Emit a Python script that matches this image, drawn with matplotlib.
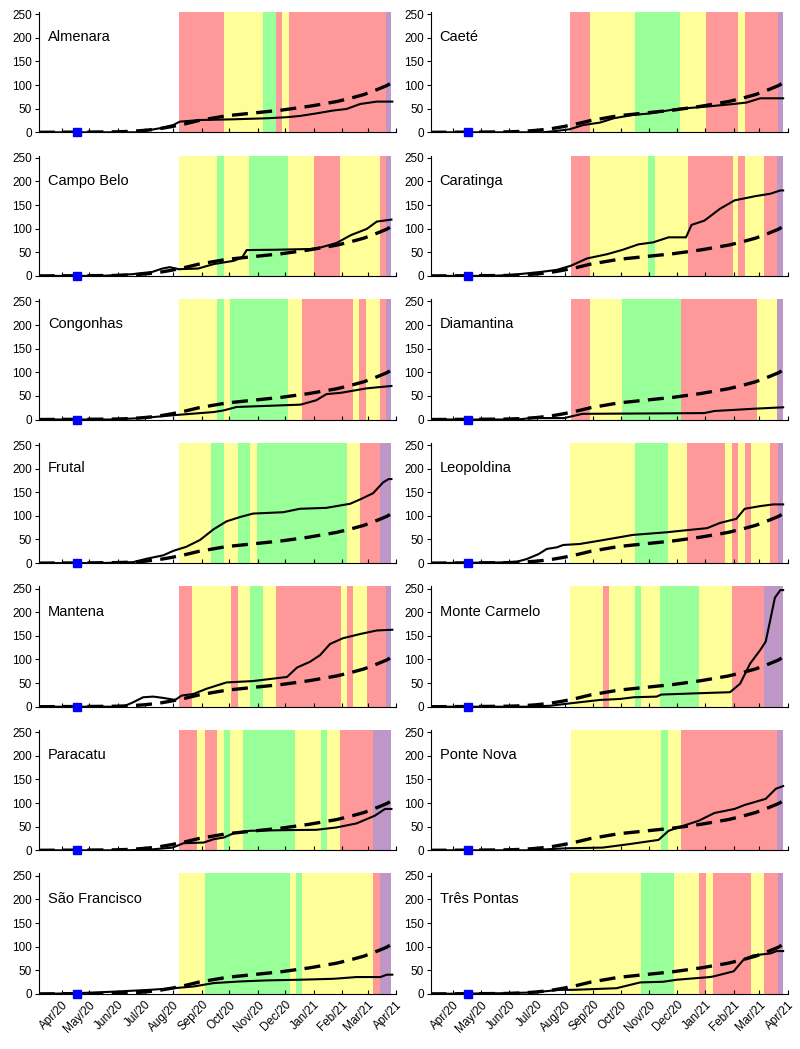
import numpy as np
import matplotlib.pyplot as plt

plt.rcParams['font.family'] = ['Liberation Sans', 'DejaVu Sans']

# x values are days counted from 2020-04-01
cities = ['Almenara', 'Caeté', 'Campo Belo', 'Caratinga', 'Congonhas', 'Diamantina',
          'Frutal', 'Leopoldina', 'Mantena', 'Monte Carmelo', 'Paracatu', 'Ponte Nova',
          'São Francisco', 'Três Pontas']

# wave colour bands: edges (days) and one colour code per band
band_edges = [
    [128, 177, 220, 234, 241, 248, 354, 360],
    [127, 149, 198, 247, 276, 311, 318, 354, 360],
    [128, 170, 177, 205, 247, 276, 304, 347, 354, 360],
    [128, 149, 213, 220, 256, 305, 311, 318, 339, 353, 360],
    [128, 170, 177, 184, 247, 262, 318, 325, 332, 347, 354, 360],
    [128, 149, 184, 248, 332, 353, 360],
    [128, 163, 177, 192, 206, 213, 312, 326, 348, 360],
    [127, 198, 234, 255, 297, 304, 311, 318, 325, 346, 354, 360],
    [128, 142, 185, 192, 206, 220, 234, 305, 312, 318, 333, 354, 360],
    [127, 163, 170, 198, 205, 226, 268, 304, 339, 360],
    [128, 148, 156, 170, 177, 184, 198, 255, 283, 290, 304, 340, 360],
    [128, 227, 234, 248, 353, 360],
    [128, 156, 249, 256, 262, 340, 347, 360],
    [127, 205, 241, 268, 276, 283, 325, 339, 354, 360],
]
band_codes = ['RYGRYRP', 'RYGYRYRP', 'YGYGYRYRP', 'RYGYRYRYRP', 'YGYGYRYRYRP',
              'RYGRYP', 'YGYGYGYRP', 'YGYRYRYRYRP', 'RYRYGYRYRYRP', 'YRYGYGYRP',
              'RYRYGYGYGYRP', 'YGYRP', 'YGYGYRP', 'YGYRYRYRP']
band_colors = {'R': '#FF9999', 'Y': '#FFFF99', 'G': '#99FF99', 'P': '#BF97C7'}

# city series (day, value)
city_curves = [
    [(-25, 0), (82, 0), (107, 8.5), (122, 15.5), (129, 22.6), (151, 26), (187, 27.5), (224, 29.7),
     (246, 32), (260, 34.6), (278, 40), (296, 46), (311, 49.4), (326, 60), (344, 65), (361, 65)],
    [(-25, 0), (98, 0), (113, 3), (127, 6.4), (142, 15.5), (160, 20.5), (175, 29.7), (196, 36.7),
     (215, 40), (244, 49.4), (276, 54.4), (306, 60), (320, 63), (335, 72), (360, 72)],
    [(-25, 0), (43, 0), (77, 3.6), (99, 8.5), (110, 15.6), (118, 18.5), (128, 14.2), (149, 15.6),
     (166, 25), (188, 32), (197, 39), (202, 54.7), (233, 55.4), (272, 57), (283, 60.4),
     (300, 69.6), (316, 86.6), (333, 99.4), (344, 115), (360, 119.3)],
    [(-25, 0), (40, 0), (63, 2), (96, 8.5), (113, 12.8), (128, 21.3), (146, 37), (168, 46),
     (185, 55.4), (202, 66.8), (218, 71), (235, 81.7), (254, 81.7), (260, 108), (274, 117),
     (291, 142), (307, 160), (330, 169), (346, 174), (357, 181), (360, 181)],
    [(-25, 0), (54, 0), (88, 3), (116, 8), (128, 10), (166, 15.8), (177, 19.3), (191, 26.5),
     (222, 28.7), (261, 31.5), (278, 40.8), (289, 53.7), (305, 56.6), (333, 66), (360, 71)],
    [(-25, 0), (70, 0), (85, 3), (121, 3), (141, 12), (230, 13), (274, 13.6), (285, 18),
     (330, 23), (360, 25.8)],
    [(-25, 0), (42, 0), (78, 2), (93, 9.3), (111, 16.5), (122, 26), (136, 34.5), (151, 48.9),
     (166, 71.8), (180, 88.4), (195, 97.7), (209, 104.9), (242, 107.8), (260, 115), (289, 117),
     (315, 125.7), (326, 135), (340, 148), (351, 171), (357, 178), (360, 178)],
    [(-25, 0), (51, 1.4), (69, 2.8), (80, 8.5), (93, 19), (102, 30), (113, 33.4), (120, 38.4),
     (138, 40.5), (160, 47.6), (196, 59.7), (233, 65.3), (251, 69), (277, 74), (291, 85),
     (309, 93.8), (318, 115), (335, 120.7), (349, 124.3), (360, 124.3)],
    [(-25, 0), (67, 0), (78, 9.3), (89, 20), (100, 21.4), (111, 18.6), (124, 14.3), (131, 23.6),
     (144, 27), (158, 37.9), (180, 51.4), (209, 54.3), (246, 63), (257, 83), (271, 95),
     (282, 109), (293, 132.8), (307, 145), (326, 154), (344, 161.4), (361, 163)],
    [(-25, 0), (80, 0), (106, 2), (127, 7), (160, 14.3), (182, 16.4), (197, 20), (222, 21.4),
     (227, 25.7), (269, 28.6), (302, 30.7), (313, 48.6), (324, 91.4), (335, 120), (341, 137.9),
     (346, 184), (351, 230.7), (357, 247), (360, 247)],
    [(-25, 0), (71, 0), (99, 2), (121, 5.7), (133, 15), (155, 16.4), (166, 23.5), (177, 27),
     (188, 36.3), (205, 41.3), (244, 42.7), (278, 43.4), (300, 48.4), (322, 57), (342, 73.4),
     (353, 87.6), (360, 87.6)],
    [(-25, 0), (80, 0), (124, 4.3), (163, 5.7), (191, 12.8), (224, 22), (235, 41.3), (249, 50.6),
     (268, 62.7), (285, 79), (307, 87.6), (318, 96), (341, 109), (352, 130.3), (360, 136)],
    [(-25, 0), (16, 1.4), (60, 5), (96, 8.6), (122, 12), (144, 15.7), (166, 22.9), (195, 26.4),
     (224, 28.6), (260, 30), (297, 32), (322, 35.7), (348, 35.7), (355, 40.7), (361, 40.7)],
    [(-25, 0), (51, 1.4), (87, 3), (116, 8.6), (131, 8.6), (178, 12), (204, 24.3), (229, 25.7),
     (244, 30), (280, 35.7), (284, 37), (306, 47.9), (317, 72.9), (327, 81.4), (346, 85.7),
     (353, 90.7), (360, 90.7)],
]

# state reference (dashed), same in every panel
ref_days = [-25, 30, 60, 75, 90, 105, 120, 135, 150, 165, 180, 195, 210, 225, 240, 255,
            270, 285, 300, 315, 330, 345, 355, 361]
ref_vals = [0, 0.5, 1, 2, 4, 7, 12, 18, 25, 30, 35, 38, 41, 44, 47, 51,
            55, 60, 65, 72, 80, 91, 99, 106]

marker_day = 16.5

base = np.datetime64('2020-04-01')
months = np.arange('2020-04', '2021-05', dtype='datetime64[M]')
tick_days = (months.astype('datetime64[D]') - base).astype(int)
tick_labels = [m.item().strftime('%b/%y') for m in months]

fig = plt.figure(figsize=(8, 10.49), dpi=100)
W, H = 800, 1049

for i, city in enumerate(cities):
    row, col = divmod(i, 2)
    left = 39 if col == 0 else 430.7
    y0 = 132.3 + 143.6 * row
    ax = fig.add_axes([left / W, 1 - y0 / H, 357 / W, 120.4 / H])

    edges = band_edges[i]
    for a, b, c in zip(edges[:-1], edges[1:], band_codes[i]):
        ax.axvspan(a, b, color=band_colors[c], lw=0, zorder=0)

    d, v = zip(*city_curves[i])
    ax.plot(d, v, color='black', lw=1.5, zorder=3)
    ax.plot(ref_days, ref_vals, color='black', lw=2.4, dashes=(4.8, 2.5), zorder=4)
    ax.plot([marker_day], [0], marker='s', color='#0000FF', ms=5.5, zorder=5, clip_on=False)

    ax.text(0.025, 0.79, city, transform=ax.transAxes, fontsize=10.5, va='center', ha='left')

    ax.set_xlim(-24.7, 365)
    ax.set_ylim(0, 255)
    ax.set_yticks([0, 50, 100, 150, 200, 250])
    ax.set_xticks(tick_days)
    for s in ['top', 'right']:
        ax.spines[s].set_visible(False)
    ax.spines['left'].set_linewidth(0.8)
    ax.spines['bottom'].set_linewidth(0.8)
    ax.tick_params(axis='y', direction='out', length=3, width=0.8, labelsize=8.5, pad=2)
    ax.tick_params(axis='x', direction='in', length=3, width=0.8, labelsize=8.5)
    if row == 6:
        ax.set_xticklabels(tick_labels, rotation=45, ha='right', va='top',
                           rotation_mode='anchor')
    else:
        ax.set_xticklabels([])

fig.savefig('out.png', dpi=100)
